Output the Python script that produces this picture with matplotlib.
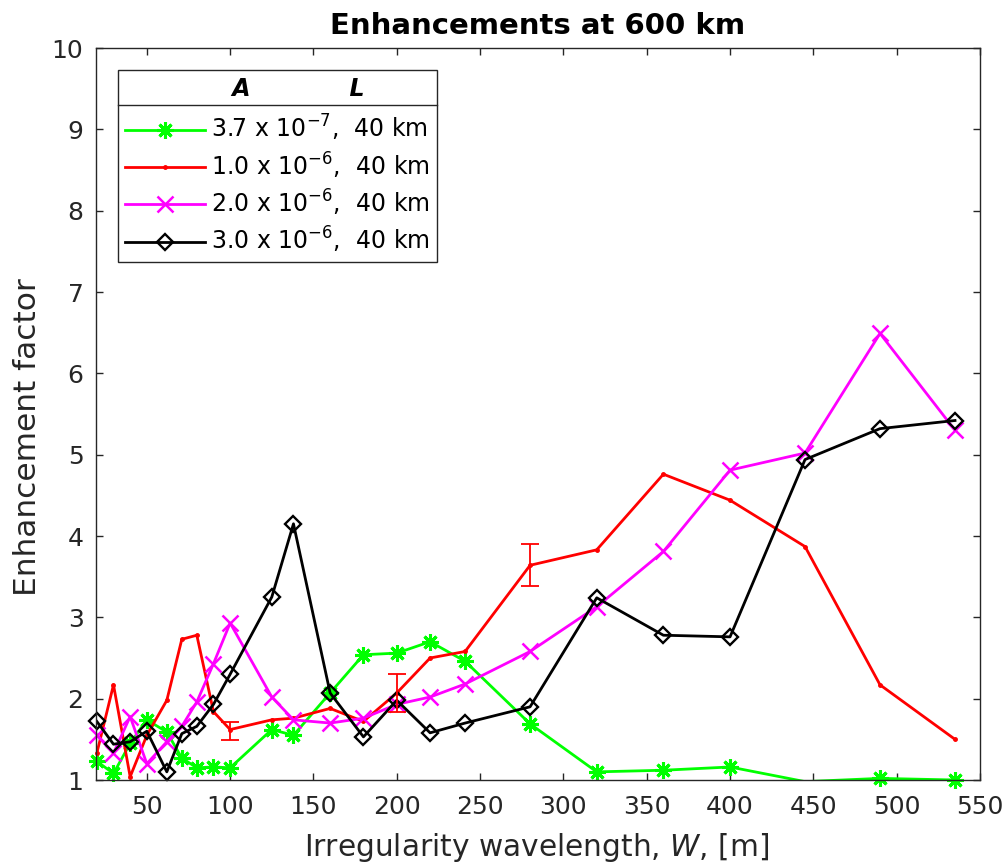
import numpy as np
import matplotlib
matplotlib.use("Agg")
import matplotlib.pyplot as plt
from matplotlib.lines import Line2D
from matplotlib.legend_handler import HandlerTuple

# ---------------------------------------------------------------------------
# Data (x = irregularity wavelength, m)
# ---------------------------------------------------------------------------
wavelength = [20, 30, 40, 50, 62, 71, 80, 90, 100, 125, 138, 160, 180,
              200, 220, 241, 280, 320, 360, 400, 445, 490, 535]

enh_37e7 = [1.23, 1.08, 1.45, 1.74, 1.59, 1.27, 1.15, 1.16, 1.15, 1.62, 1.55,
            2.07, 2.54, 2.56, 2.70, 2.46, 1.69, 1.10, 1.12, 1.16, 0.98, 1.02, 1.00]
enh_10e6 = [1.33, 2.17, 1.04, 1.55, 1.98, 2.73, 2.78, 1.84, 1.62, 1.74, 1.76,
            1.88, 1.72, 2.07, 2.50, 2.58, 3.64, 3.83, 4.76, 4.44, 3.87, 2.17, 1.50]
enh_20e6 = [1.55, 1.33, 1.78, 1.20, 1.47, 1.66, 1.96, 2.43, 2.93, 2.02, 1.74,
            1.70, 1.76, 1.93, 2.02, 2.18, 2.58, 3.13, 3.81, 4.81, 5.02, 6.49, 5.30]
enh_30e6 = [1.72, 1.44, 1.47, 1.60, 1.10, 1.57, 1.66, 1.93, 2.30, 3.25, 4.15,
            2.07, 1.53, 1.98, 1.58, 1.70, 1.90, 3.24, 2.78, 2.76, 4.94, 5.32, 5.42]

# error bars on the 1.0e-6 series
err_x = [100, 200, 280]
err_y = [1.62, 2.07, 3.64]
err_lo = [0.13, 0.23, 0.25]
err_hi = [0.09, 0.23, 0.26]

labels = [r"3.7 x 10$^{-7}$,  40 km",
          r"1.0 x 10$^{-6}$,  40 km",
          r"2.0 x 10$^{-6}$,  40 km",
          r"3.0 x 10$^{-6}$,  40 km"]

AX_COL = "#262626"
STYLES = [
    dict(color="#00FF00", marker=(8, 2, 0), ms=12, mew=2.2, mfc="none"),
    dict(color="#FF0000", marker=".", ms=5, mew=1.0, mfc="#FF0000"),
    dict(color="#FF00FF", marker="x", ms=11, mew=1.8, mfc="none"),
    dict(color="black", marker="D", ms=8, mew=1.7, mfc="none"),
]


def main():
    plt.rcParams["font.family"] = ["DejaVu Sans"]
    plt.rcParams["mathtext.fontset"] = "dejavusans"

    fig = plt.figure(figsize=(10.08, 8.63), dpi=100)
    ax = fig.add_axes([96 / 1008, 83 / 863, 884 / 1008, 732 / 863])

    x = np.array(wavelength, dtype=float)
    handles = []
    for ys, st in zip([enh_37e7, enh_10e6, enh_20e6, enh_30e6], STYLES):
        y = np.array(ys)
        ln, = ax.plot(x, y, color=st["color"], lw=2.0)
        keep = y >= 1.0  # markers outside the y range are not drawn
        mk, = ax.plot(x[keep], y[keep], ls="none", marker=st["marker"],
                      ms=st["ms"], mew=st["mew"], mec=st["color"],
                      mfc=st["mfc"], clip_on=False)
        handles.append((ln, mk))

    ax.errorbar(err_x, err_y, yerr=[err_lo, err_hi], fmt="none",
                ecolor="#FF0000", elinewidth=1.3, capsize=6.5, capthick=1.3)

    ax.set_xlim(19.5, 550)
    ax.set_ylim(1, 10)
    ax.set_xticks(np.arange(50, 551, 50))
    ax.set_yticks(np.arange(1, 11, 1))

    for sp in ax.spines.values():
        sp.set_color(AX_COL)
        sp.set_linewidth(1.0)
    ax.tick_params(direction="in", length=5, width=1.0, colors=AX_COL,
                   top=True, right=True, labelsize=18)
    ax.tick_params(axis="x", pad=11)
    ax.tick_params(axis="y", pad=9)

    ax.set_xlabel(r"Irregularity wavelength, $\mathit{W}$, [m]",
                  fontsize=21.3, color=AX_COL)
    ax.set_ylabel("Enhancement factor", fontsize=22.5, color=AX_COL)
    ax.xaxis.set_label_coords(0.498, -0.0697)
    ax.yaxis.set_label_coords(-0.061, 0.469)
    ax.set_title("Enhancements at 600 km", fontsize=21, fontweight="bold",
                 color="black", pad=10)

    leg = ax.legend(handles, labels, loc="upper left",
                    bbox_to_anchor=(22 / 884, 710 / 732), borderaxespad=0,
                    fontsize=17, handlelength=3.4, handletextpad=0.25,
                    borderpad=0.3, labelspacing=0.3, fancybox=False,
                    framealpha=1, edgecolor=AX_COL,
                    handler_map={tuple: HandlerTuple(ndivide=1)},
                    title="     A" + " " * 12 + "L",
                    title_fontproperties={"weight": "bold", "style": "italic",
                                          "size": 17})
    leg.get_frame().set_linewidth(1.0)
    # a little more room between the header and the entries
    leg._legend_box.sep = 0.3 * 17 + 3.6

    # header separator line under the legend title
    fig.canvas.draw()
    lb = leg.get_window_extent()
    tb = leg.get_title().get_window_extent()
    inv = fig.transFigure.inverted()
    (x0, ysep), (x1, _) = inv.transform([(lb.x0, tb.y0 - 4), (lb.x1, tb.y0 - 4)])
    fig.add_artist(Line2D([x0, x1], [ysep, ysep], color=AX_COL, lw=1.0))

    fig.savefig("out.png", dpi=100, facecolor="white")


if __name__ == "__main__":
    main()
